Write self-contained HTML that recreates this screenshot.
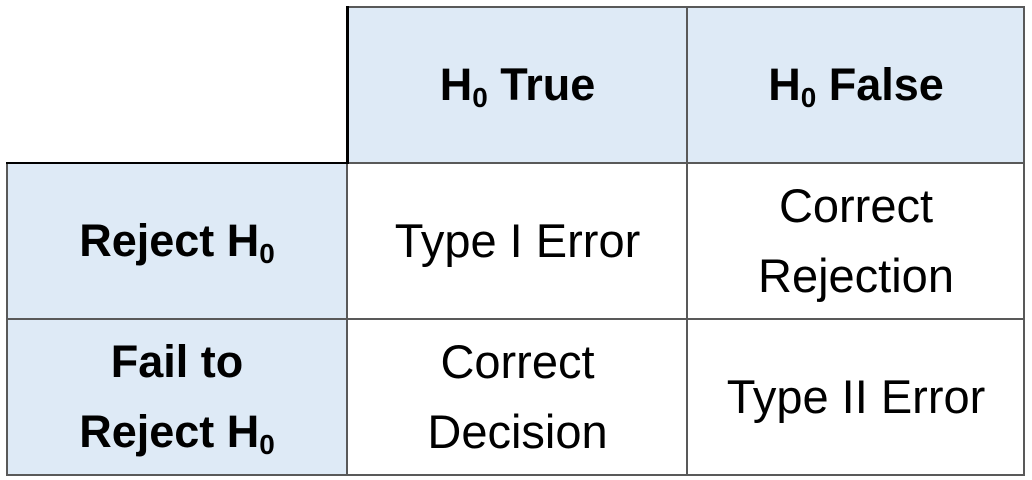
<!DOCTYPE html>
<html><head><style>
body{margin:0;width:1032px;height:480px;background:#fff;position:relative;overflow:hidden;font-family:"Liberation Sans",Arial,sans-serif;color:#000}
.c{position:absolute;display:flex;align-items:center;justify-content:center;text-align:center;font-size:47px;line-height:70px}
.b{font-weight:bold;font-size:45px}
.f{background:#deeaf6}
.l{position:absolute;background:#595959}
sub{font-size:0.62em;vertical-align:-0.25em;line-height:0}
</style></head><body>
<div class="c f b" style="left:348px;top:7px;width:339px;height:155px"><span>H<sub>0</sub> True</span></div>
<div class="c f b" style="left:688px;top:7px;width:336px;height:155px"><span>H<sub>0</sub> False</span></div>
<div class="c f b" style="left:7px;top:163px;width:340px;height:155px"><span>Reject H<sub>0</sub></span></div>
<div class="c f b" style="left:7px;top:319px;width:340px;height:156px"><span>Fail to<br>Reject H<sub>0</sub></span></div>
<div class="c" style="left:348px;top:163px;width:339px;height:155px"><span>Type I Error</span></div>
<div class="c" style="left:688px;top:163px;width:336px;height:155px"><span>Correct<br>Rejection</span></div>
<div class="c" style="left:348px;top:319px;width:339px;height:156px"><span>Correct<br>Decision</span></div>
<div class="c" style="left:688px;top:319px;width:336px;height:156px"><span>Type II Error</span></div>
<div class="l" style="left:347px;top:6px;width:678px;height:2px"></div>
<div class="l" style="left:6px;top:162px;width:1019px;height:2px"></div>
<div class="l" style="left:6px;top:318px;width:1019px;height:2px"></div>
<div class="l" style="left:6px;top:474px;width:1019px;height:2px"></div>
<div class="l" style="left:6px;top:162px;width:2px;height:314px"></div>
<div class="l" style="left:686px;top:6px;width:2px;height:470px"></div>
<div class="l" style="left:1023px;top:6px;width:2px;height:470px"></div>
<div class="l" style="left:346px;top:162px;width:2px;height:314px"></div>
<div class="l" style="left:346px;top:6px;width:3px;height:158px;background:#000"></div>
<div class="l" style="left:6px;top:162px;width:342px;height:2px;background:#000"></div>
</body></html>
